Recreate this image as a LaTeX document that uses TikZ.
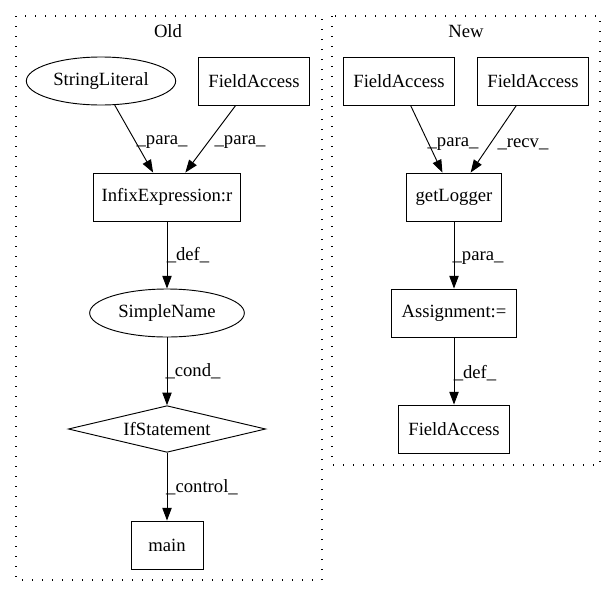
\documentclass[tikz,border=0pt]{standalone}
\usepackage{fontspec}
\setmainfont{Liberation Serif}
\usetikzlibrary{arrows.meta,shapes.geometric}

\begin{document}
\begin{tikzpicture}[x=0.75pt,y=-0.75pt,font=\fontsize{14}{16}\selectfont,
 box/.style={draw,rectangle,inner sep=0pt,minimum height=36pt,line width=0.7pt},
 oval/.style={draw,ellipse,inner sep=0pt,minimum height=36pt,line width=0.7pt},
 raute/.style={draw,diamond,inner sep=0pt,shape aspect=4,minimum width=148pt,minimum height=35pt,line width=0.7pt},
 lab/.style={inner sep=0pt},
 pfeil/.style={-{Triangle[length=9.5pt,width=7pt]},line width=0.7pt},
 cluster/.style={line width=0.8pt,dash pattern=on 1pt off 6.5pt}]
\useasboundingbox (0,0) rectangle (616,596);
%\draw[help lines,yellow,thin] (0,0) grid[step=50] (616,596);
\draw [cluster] (16,16) rectangle (322,580);
\draw [cluster] (332,16) rectangle (600,465);
\node  [lab] (old) at (168,31){Old};
\node  [lab] (new) at (466,31){New};
% Old
\node  [oval,minimum width=112pt] (sl) at (101,81){StringLiteral};
\node  [box,minimum width=83pt] (fa1) at (254,81){FieldAccess};
\node  [box,minimum width=110pt] (ie) at (167,197){InfixExpression:r};
\node  [oval,minimum width=116pt] (sn) at (167,313){SimpleName};
\node  [raute] (if) at (167,429){IfStatement};
\node  [box,minimum width=54pt] (main) at (167,545){main};
% New
\node  [box,minimum width=83pt] (fa2) at (399,81){FieldAccess};
\node  [box,minimum width=83pt] (fa3) at (533,81){FieldAccess};
\node  [box,minimum width=71pt] (gl) at (454,197){getLogger};
\node  [box,minimum width=94pt] (as) at (454,313){Assignment:=};
\node  [box,minimum width=83pt] (fa4) at (454,429){FieldAccess};
% edges
\draw [pfeil] (sl) -- (ie);
\draw [pfeil] (fa1) -- (ie);
\draw [pfeil] (ie) -- (sn);
\draw [pfeil] (sn) -- (if);
\draw [pfeil] (if) -- (main);
\draw [pfeil] (fa2) -- (gl);
\draw [pfeil] (fa3) -- (gl);
\draw [pfeil] (gl) -- (as);
\draw [pfeil] (as) -- (fa4);
% labels
\node  [lab] (e1) at (162,142){\_para\_};
\node  [lab] (e2) at (240,142){\_para\_};
\node  [lab] (e3) at (188,255){\_def\_};
\node  [lab] (e4) at (193,371){\_cond\_};
\node  [lab] (e5) at (202,487){\_control\_};
\node  [lab] (e6) at (453,144){\_para\_};
\node  [lab] (e7) at (523,144){\_recv\_};
\node  [lab] (e8) at (478,258){\_para\_};
\node  [lab] (e9) at (475,373){\_def\_};
\end{tikzpicture}
\end{document}
